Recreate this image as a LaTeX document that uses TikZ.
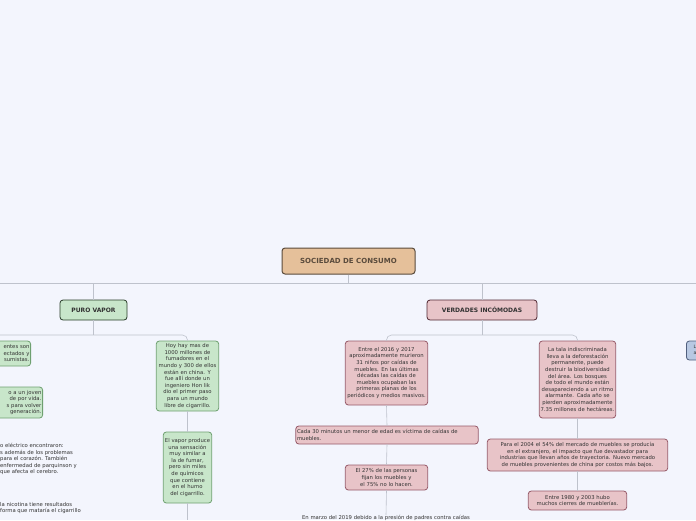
\documentclass[tikz,border=0pt]{standalone}
\usepackage{fontspec}
\setmainfont{DejaVu Sans}
\definecolor{bgc}{RGB}{243,245,253}
\definecolor{gfill}{RGB}{200,230,202}
\definecolor{gdraw}{RGB}{110,160,112}
\definecolor{pfill}{RGB}{232,196,200}
\definecolor{pdraw}{RGB}{150,90,105}
\definecolor{bfill}{RGB}{184,200,226}
\definecolor{bdraw}{RGB}{80,95,125}
\definecolor{rfill}{RGB}{229,192,154}
\definecolor{rdraw}{RGB}{90,75,60}
\definecolor{gdark}{RGB}{40,60,40}
\definecolor{pdark}{RGB}{80,40,50}
\definecolor{lnc}{RGB}{190,194,204}
\definecolor{txt}{RGB}{50,50,50}
\newcommand{\fs}{\fontsize{5.3}{6.6}\selectfont\hyphenpenalty=10000\exhyphenpenalty=10000}
\begin{document}
\begin{tikzpicture}[x=1pt,y=-1pt,
  base/.style={rounded corners=3pt,line width=0.8pt,align=center,font=\fs,text=txt,inner sep=1.2pt},
  gbox/.style={base,fill=gfill,draw=gdraw},
  pbox/.style={base,fill=pfill,draw=pdraw},
  bbox/.style={base,fill=bfill,draw=bdraw},
  free/.style={align=left,font=\fs,text=txt,inner sep=0pt},
  conn/.style={draw=lnc,line width=0.6pt,rounded corners=5pt}]
\fill[bgc] (0,0) rectangle (696,520);
\useasboundingbox (0,0) rectangle (696,520);
\coordinate (L0) at (0,283); \coordinate (R0) at (696,283);
\coordinate (LL) at (0,335);
\node[base,minimum width=133pt,minimum height=26pt,fill=rfill,draw=rdraw,line width=1pt,font=\bfseries\fontsize{7}{8}\selectfont,text=rdraw] (root) at (348.5,261) {SOCIEDAD DE CONSUMO};
\node[gbox,minimum width=67pt,minimum height=20pt,font=\bfseries\fontsize{6}{7}\selectfont,draw=gdark] (pv) at (93.5,310) {PURO VAPOR};
\node[pbox,minimum width=110pt,minimum height=20pt,font=\bfseries\fontsize{6}{7}\selectfont,draw=pdark] (vi) at (482,310) {VERDADES INCÓMODAS};
\node[bbox,minimum width=20pt,minimum height=19pt,anchor=west,align=left,font=\fontsize{4.6}{6}\selectfont] (bl) at (686,350.5) {La\\ag};
\node[gbox,text width=60pt,minimum height=70pt] (g1) at (187.5,376) {Hoy hay mas de 1000 millones de fumadores en el mundo y 300 de ellos están en china. Y fue allí donde un ingeniero Hon lik dio el primer paso para un mundo libre de cigarrillo.};
\node[gbox,text width=46pt,minimum height=71pt] (g2) at (187.5,467.5) {El vapor produce una sensación muy similar a la de fumar, pero sin miles de químicos que contiene en el humo del cigarrillo.};
\node[gbox,minimum height=25pt,anchor=east,align=left,text width=56pt] (g3) at (31,353.5) {\hfill entes son\\\hfill ectados y\\\hfill sumistas.};
\node[gbox,minimum height=31pt,anchor=east,align=left,text width=66pt] (g4) at (43,402.5) {\hfill o a un joven\\\hfill de por vida.\\\hfill s para volver\\\hfill generación.};
\node[free,anchor=north west] (t1) at (0,443) {o eléctrico encontraron:\\s además de los problemas\\ para el corazón. También\\enfermedad de parquinson y\\ que afecta el cerebro.};
\node[free,anchor=north west] (t2) at (0,502) {la nicotina tiene resultados\\forma que mataría el cigarrillo};
\node[pbox,text width=80pt,minimum height=64pt] (p1) at (386.5,373) {Entre el 2016 y 2017 aproximadamente murieron 31 niños por caídas de muebles. En las últimas décadas las caídas de muebles ocupaban las primeras planas de los periódicos y medios masivos.};
\node[pbox,text width=180pt,minimum height=18pt,align=left] (p2) at (387,435) {Cada 30 minutos un menor de edad es víctima de caídas de muebles.};
\node[pbox,text width=80pt,minimum height=25pt] (p3) at (386.5,477.5) {El 27\% de las personas fijan los muebles y el 75\% no lo hacen.};
\node[free,anchor=north,align=center] (t3) at (386,515) {En marzo del 2019 debido a la presión de padres contra caídas};
\node[pbox,text width=74pt,minimum height=77pt] (p4) at (577.5,379.5) {La tala indiscriminada lleva a la deforestación permanente, puede destruir la biodiversidad del área. Los bosques de todo el mundo están desapareciendo a un ritmo alarmante. Cada año se pierden aproximadamente 7.35 millones de hectáreas.};
\node[pbox,text width=178pt,minimum height=32pt] (p5) at (577.5,455) {Para el 2004 el 54\% del mercado de muebles se producía en el extranjero, el impacto que fue devastador para industrias que llevan años de trayectoria. Nuevo mercado de muebles provenientes de china por costos más bajos.};
\node[pbox,text width=96pt,minimum height=19pt] (p6) at (577.5,500.5) {Entre 1980 y 2003 hubo muchos cierres de mueblerías.};
\path[conn] (root.south) -- (348.5,283);
\path[conn] (L0) -- (R0);
\path[conn] (pv.north) -- (93.5,283);
\path[conn] (vi.north) -- (482,283);
\path[conn] (pv.south) -- (93.5,335);
\path[conn] (LL) -- (187.5,335) -- (g1.north);
\path[conn] (g1.south) -- (g2.north);
\path[conn] (g2.south) -- (187.5,520);
\path[conn] (vi.south) -- (482,335);
\path[conn] (p1.north) -- (386.5,335) -- (577.5,335) -- (p4.north);
\path[conn] (p1.south) -- (p2.north);
\path[conn] (p2.south) -- (p3.north);
\path[conn] (p3.south) -- (t3.north);
\path[conn] (p4.south) -- (p5.north);
\path[conn] (p5.south) -- (p6.north);
\end{tikzpicture}
\end{document}
